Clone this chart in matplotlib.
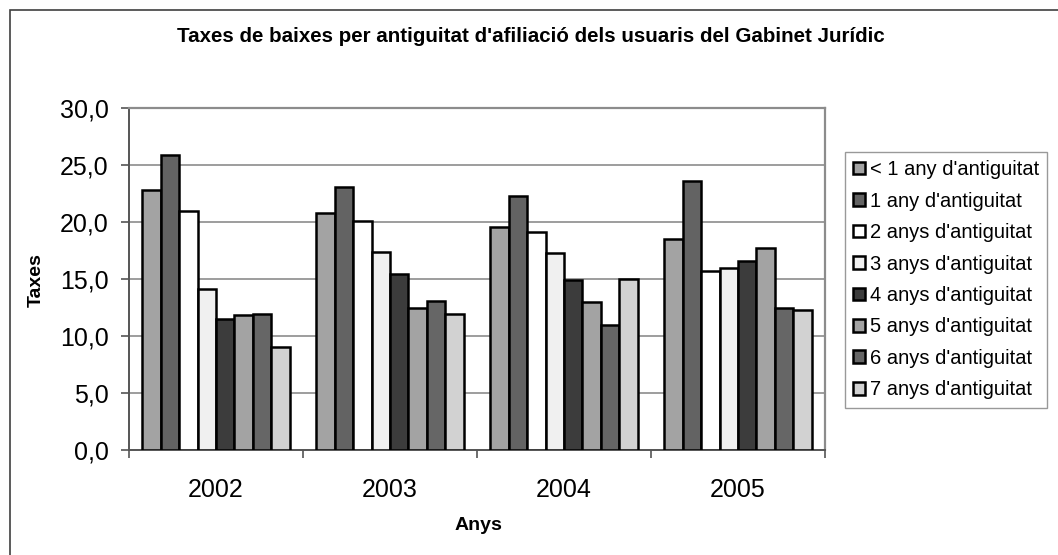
import matplotlib
matplotlib.use("Agg")
import matplotlib.pyplot as plt
import numpy as np
from matplotlib.patches import Rectangle

years = ["2002", "2003", "2004", "2005"]
series_names = ["< 1 any d'antiguitat", "1 any d'antiguitat", "2 anys d'antiguitat",
                "3 anys d'antiguitat", "4 anys d'antiguitat", "5 anys d'antiguitat",
                "6 anys d'antiguitat", "7 anys d'antiguitat"]
lt1 = [22.8, 20.8, 19.6, 18.5]
y1 = [25.9, 23.1, 22.3, 23.6]
y2 = [21.0, 20.1, 19.1, 15.7]
y3 = [14.1, 17.4, 17.3, 16.0]
y4 = [11.5, 15.4, 14.9, 16.6]
y5 = [11.8, 12.5, 13.0, 17.7]
y6 = [11.9, 13.1, 11.0, 12.5]
y7 = [9.0, 11.9, 15.0, 12.3]
series = [lt1, y1, y2, y3, y4, y5, y6, y7]
colors = ["#a3a3a3", "#636363", "#ffffff", "#f0f0f0", "#3c3c3c", "#a3a3a3", "#666666", "#d2d2d2"]
yticks = [0, 5, 10, 15, 20, 25, 30]

plt.rcParams['font.family'] = ['Liberation Sans', 'DejaVu Sans']

W, H = 1058, 555
fig = plt.figure(figsize=(W / 100, H / 100), dpi=100)
fig.patch.set_facecolor("white")

# outer chart border (left/top visible)
fig.patches.append(Rectangle((10 / W, -0.05), 1.2, 1 - 10 / H + 0.05, transform=fig.transFigure,
                             fill=False, edgecolor="#404040", linewidth=1.2))

ax = fig.add_axes([129 / W, 1 - 450 / H, (825 - 129) / W, (450 - 108) / H])
x = np.arange(len(years))
n = len(series)
w = 0.106
for i, (vals, c, name) in enumerate(zip(series, colors, series_names)):
    ax.bar(x + (i - (n - 1) / 2) * w, vals, width=w, color=c, edgecolor="black",
           linewidth=1.8, label=name, zorder=3)

ax.set_xlim(-0.5, len(years) - 0.5)
ax.set_ylim(0, 30)
ax.set_yticks(yticks)
ax.set_yticklabels([f"{v:.1f}".replace(".", ",") for v in yticks], fontsize=18)
ax.yaxis.grid(True, color="#8c8c8c", linewidth=1.2, zorder=0)
ax.set_axisbelow(True)

ax.set_xticks(x)
ax.set_xticklabels(years, fontsize=18)
ax.set_xticks(np.arange(len(years) + 1) - 0.5, minor=True)
ax.tick_params(axis="x", which="major", length=0, pad=20.5)
ax.tick_params(axis="x", which="minor", length=6, width=1.2, color="#555555", direction="out")
ax.tick_params(axis="y", length=6, width=1.2, color="#555555", pad=8.5)

for s in ["left", "bottom"]:
    ax.spines[s].set_color("#555555")
    ax.spines[s].set_linewidth(1.4)
for s in ["top", "right"]:
    ax.spines[s].set_color("#8c8c8c")
    ax.spines[s].set_linewidth(1.6)

ax.set_ylabel("Taxes", fontsize=14, fontweight="bold")
ax.yaxis.set_label_coords((36 - 129) / (825 - 129), 1 - (280 - 108) / (450 - 108))
ax.yaxis.label.set_va("center")
ax.set_xlabel("Anys", fontsize=14, fontweight="bold")
ax.xaxis.set_label_coords((478 - 129) / (825 - 129), -(525 - 450) / (450 - 108))
ax.xaxis.label.set_va("center")

fig.text(531 / W, 1 - 37 / H, "Taxes de baixes per antiguitat d'afiliació dels usuaris del Gabinet Jurídic",
         ha="center", va="center", fontsize=14.8, fontweight="bold")

leg = fig.legend(loc="upper left", bbox_to_anchor=(845 / W, 1 - 152 / H), fontsize=14.5,
                 frameon=True, fancybox=False, edgecolor="#808080", borderpad=0.4,
                 handlelength=0.6, handleheight=0.6, handletextpad=0.25, labelspacing=0.62,
                 borderaxespad=0)
leg.get_frame().set_linewidth(1.0)

fig.savefig("out.png", dpi=100, facecolor="white")
